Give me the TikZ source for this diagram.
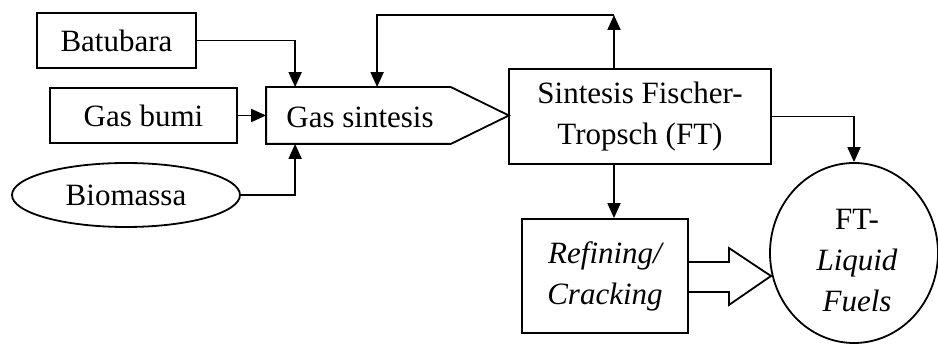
\documentclass[tikz,border=0pt]{standalone}
\usepackage{fontspec}
\setmainfont{Liberation Serif}
\usetikzlibrary{arrows.meta,shapes.geometric}
\begin{document}
\begin{tikzpicture}[x=1pt,y=-1pt,
  every node/.style={font=\fontsize{31}{41}\selectfont, inner sep=0pt, line width=1.8pt},
  boxnode/.style={draw, rectangle},
  ln/.style={line width=1.8pt},
  arr/.style={line width=1.8pt, -{Triangle[length=15pt,width=13pt]}}]
\useasboundingbox (0,0) rectangle (938,344);
% boxes
\node[boxnode, minimum width=159pt, minimum height=55pt] (bat) at (116.5,40.5) {Batubara};
\node[boxnode, minimum width=187pt, minimum height=55pt] (bumi) at (143.5,115.5) {Gas bumi};
\node[draw, ellipse, minimum width=228pt, minimum height=64pt] (bio) at (126,195) {Biomassa};
\node[rectangle, minimum width=241pt, minimum height=55pt] (gs) at (387.5,115.5) {};
\draw[ln] (gs.north west) -- ([xshift=-58pt]gs.north east) -- (gs.east) -- ([xshift=-58pt]gs.south east) -- (gs.south west) -- cycle;
\node (gstext) at (360,117) {Gas sintesis};
\node[boxnode, minimum width=262pt, minimum height=95pt, align=center] (ft) at (640,116.5) {Sintesis Fischer-\\Tropsch (FT)};
\node[boxnode, minimum width=166pt, minimum height=114pt, align=center] (ref) at (605,276) {\itshape Refining/\\\itshape Cracking};
\node[draw, ellipse, minimum width=168pt, minimum height=180pt] (fuel) at (854,253) {};
\node[align=center] (fueltext) at (857,261) {FT-\\\itshape Liquid\\\itshape Fuels};
% connectors
\draw[arr] (bat.east) -| ([xshift=29pt]gs.north west);
\draw[arr] (bumi.east) -- (gs.west);
\draw[arr] (bio.east) -| ([xshift=29pt]gs.south west);
\coordinate (fb) at (614,15);
\draw[arr] (ft.north -| fb) -- (fb);
\draw[arr] (fb) -| ([xshift=111pt]gs.north west);
\draw[arr] (ft.south -| fb) -- (ref.north -| fb);
\draw[arr] (ft.east) -| (fuel.north);
% block arrow
\coordinate (tip) at (771,276);
\draw[ln] ([yshift=-16pt]ref.east) -- ++(40pt,0) -- ++(0,-13pt) -- (tip) -- ([xshift=40pt,yshift=28pt]ref.east) -- ++(0,-14pt) -- ([yshift=14pt]ref.east);
\end{tikzpicture}
\end{document}
